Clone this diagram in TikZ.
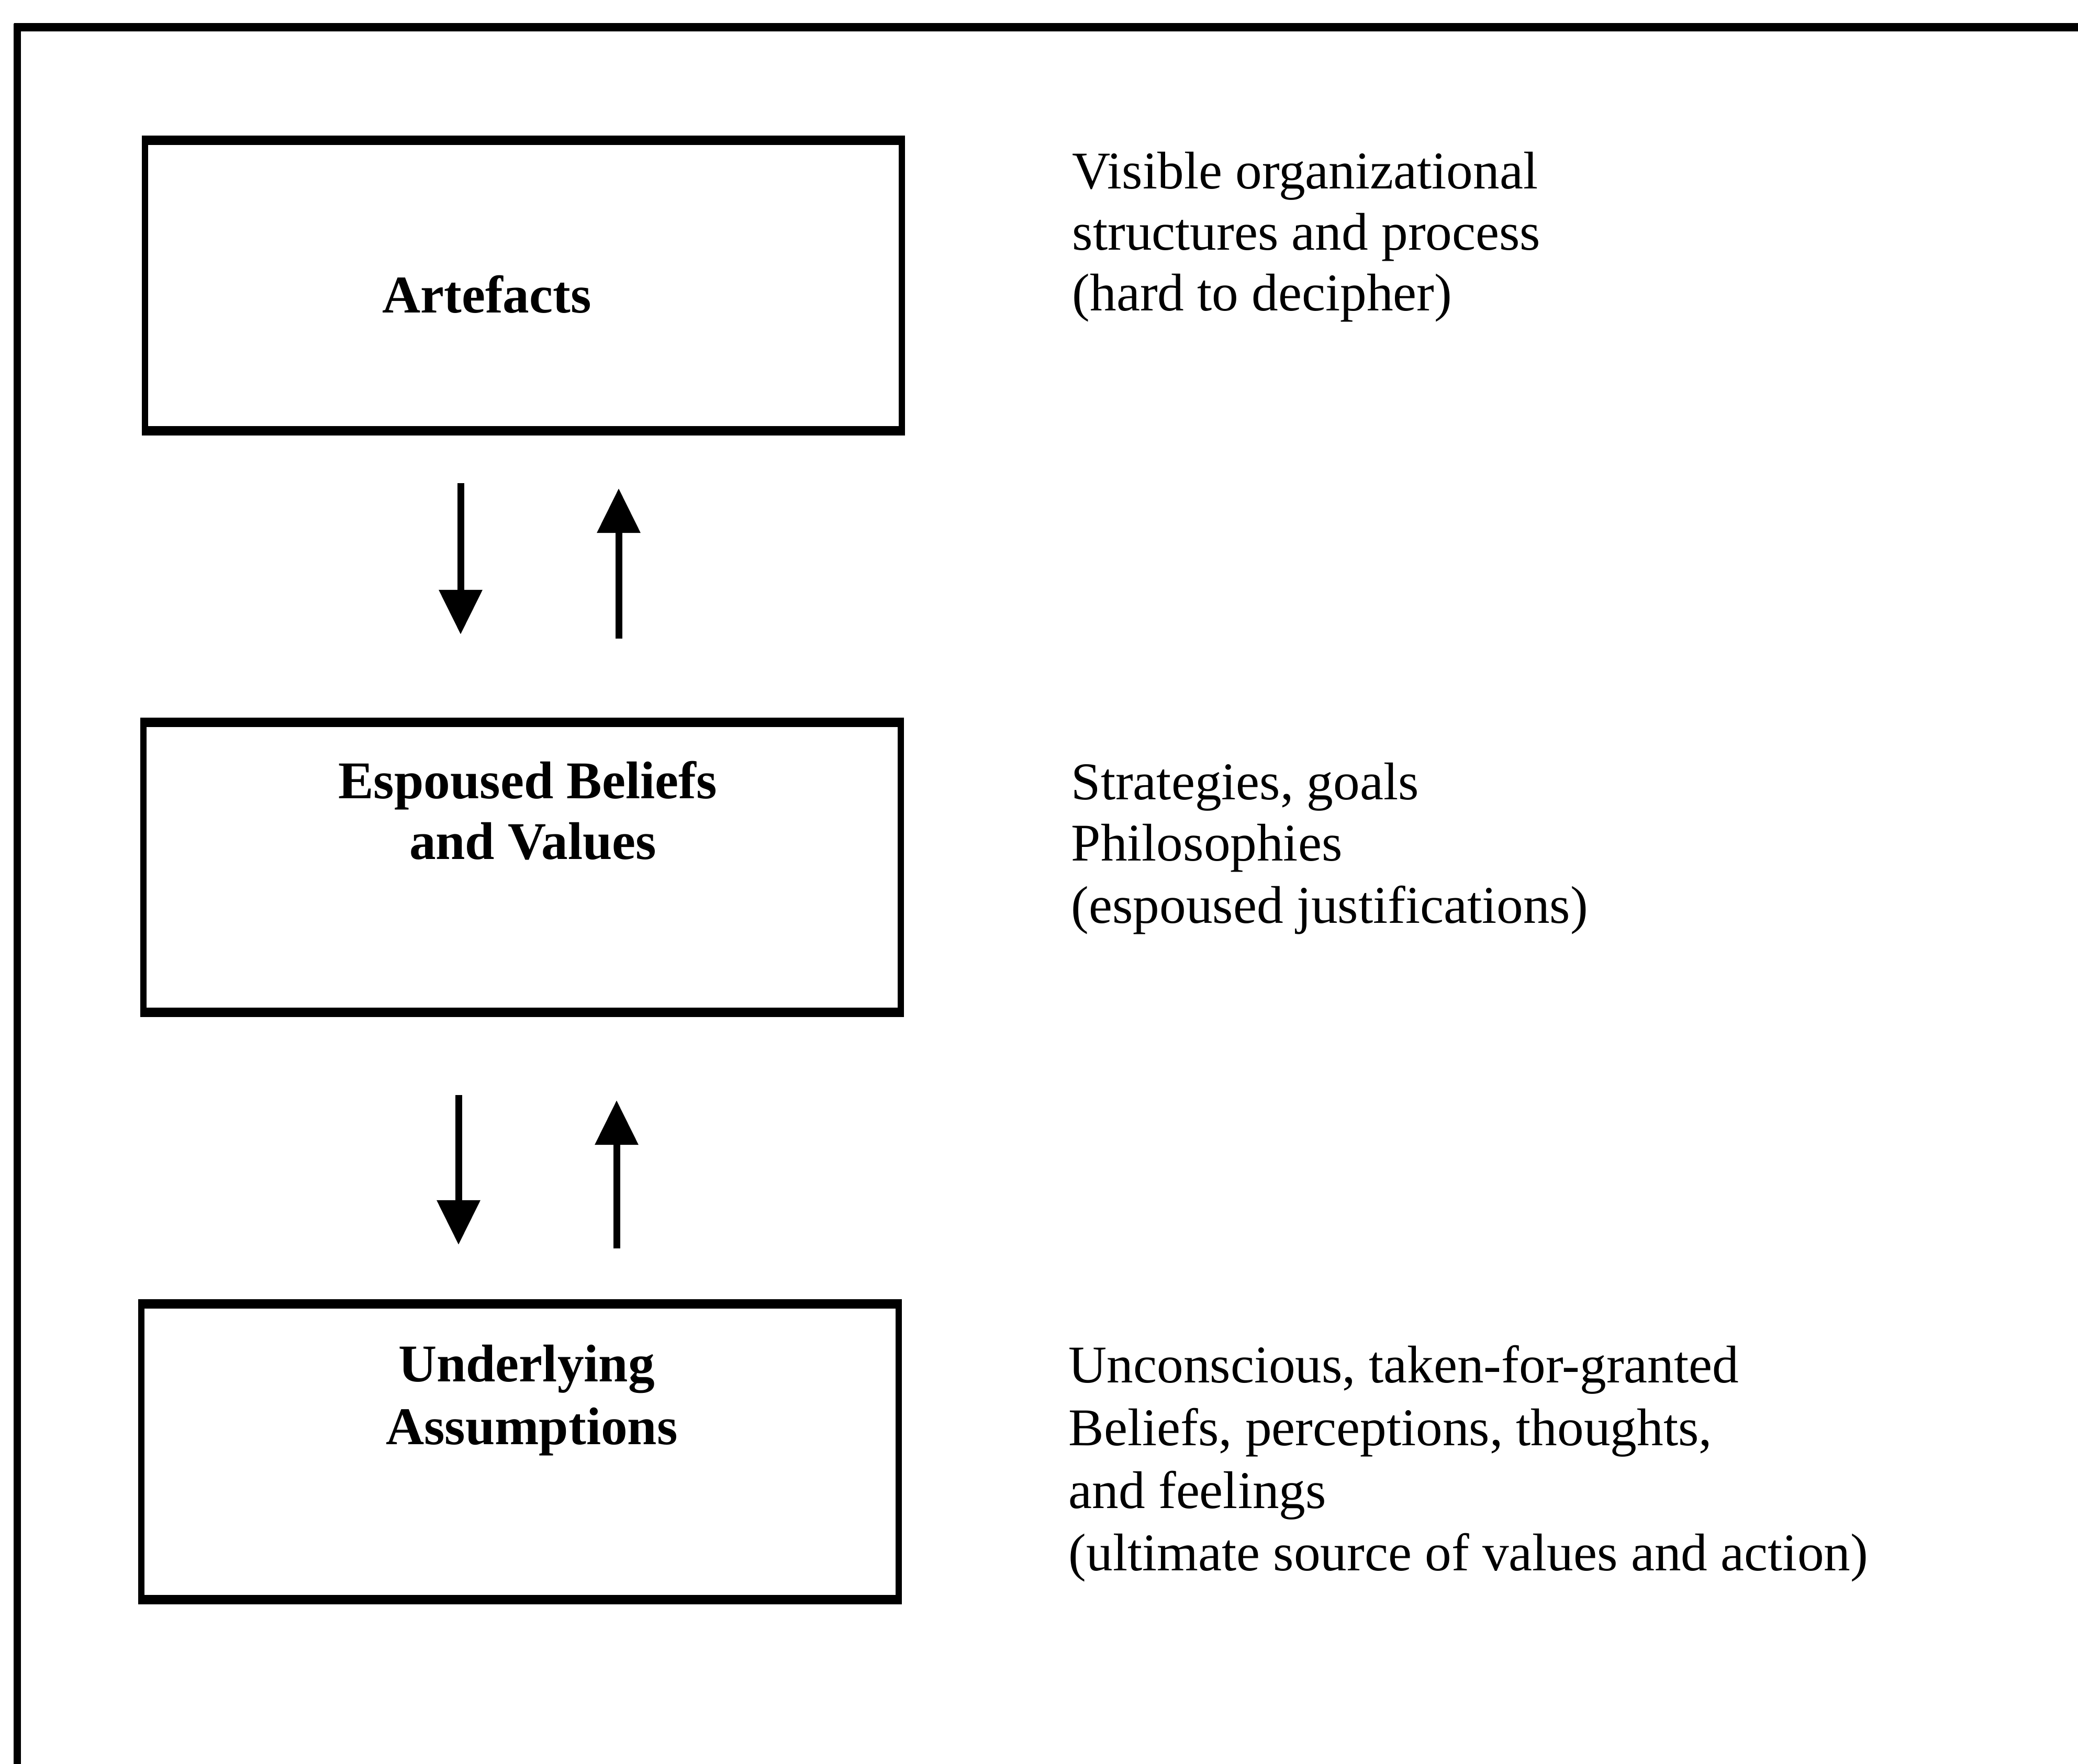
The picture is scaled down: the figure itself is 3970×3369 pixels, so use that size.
\documentclass[tikz,border=0pt]{standalone}
\usepackage{fontspec}
\setmainfont{Liberation Serif}
\usetikzlibrary{arrows.meta}
\begin{document}
\begin{tikzpicture}[x=0.01cm,y=-0.01cm,
  layerbox/.style={draw, line width=3.4pt, line join=miter, minimum width=14.46cm, outer sep=0pt, inner sep=0pt},
  edgeline/.style={line width=5pt, shorten <=-1.7pt, shorten >=-1.7pt},
  boxlabel/.style={anchor=base, inner sep=0pt, font=\fontsize{28.8pt}{33.6pt}\selectfont\bfseries},
  desc/.style={anchor=base west, inner sep=0pt, font=\fontsize{28.8pt}{33.6pt}\selectfont},
  flow/.style={line width=3.7pt, -{Triangle[length=0.85cm,width=0.8cm]}}]
\useasboundingbox (0,0) rectangle (3970,3369);
\clip (0,0) rectangle (3970,3369);
% outer frame (cropped on the right and bottom)
\coordinate (fbl) at (33,3500);
\coordinate (ftl) at (33,45);
\coordinate (ftl2) at (27,52);
\coordinate (ftr) at (4100,52);
\draw[line width=3.7pt] (fbl) -- (ftl);
\draw[line width=4.5pt] (ftl2) -- (ftr);
% layer boxes
\node[layerbox, minimum height=5.55cm] (art) at (1000,545.5) {};
\node[layerbox, minimum height=5.54cm] (esp) at (997.5,1657) {};
\node[layerbox, minimum height=5.65cm] (ua) at (993.5,2773.5) {};
\foreach \b in {art,esp,ua}{
  \draw[edgeline] (\b.north west) -- (\b.north east);
  \draw[edgeline] (\b.south west) -- (\b.south east);
}
% box labels
\node[boxlabel] (artl) at (930,597) {Artefacts};
\node[boxlabel] (espl1) at (1008,1525) {Espoused Beliefs};
\node[boxlabel] (espl2) at (1018,1641) {and Values};
\node[boxlabel] (ual1) at (1006,2639) {Underlying};
\node[boxlabel] (ual2) at (1016,2759) {Assumptions};
% descriptions
\node[desc] (d11) at (2048,360) {Visible organizational};
\node[desc] (d12) at (2048,477) {structures and process};
\node[desc] (d13) at (2048,593) {(hard to decipher)};
\node[desc] (d21) at (2046,1527) {Strategies, goals};
\node[desc] (d22) at (2046,1644) {Philosophies};
\node[desc] (d23) at (2046,1763) {(espoused justifications)};
\node[desc] (d31) at (2041,2641) {Unconscious, taken-for-granted};
\node[desc] (d32) at (2041,2761) {Beliefs, perceptions, thoughts,};
\node[desc] (d33) at (2041,2881) {and feelings};
\node[desc] (d34) at (2041,3000) {(ultimate source of values and action)};
% arrows
\coordinate (a1s) at (880,923);
\coordinate (a1e) at (880,1212);
\coordinate (b1s) at (1182,1220);
\coordinate (b1e) at (1182,933);
\coordinate (a2s) at (876,2092);
\coordinate (a2e) at (876,2378);
\coordinate (b2s) at (1178,2385);
\coordinate (b2e) at (1178,2102);
\draw[flow] (a1s) -- (a1e);
\draw[flow] (b1s) -- (b1e);
\draw[flow] (a2s) -- (a2e);
\draw[flow] (b2s) -- (b2e);
\end{tikzpicture}
\end{document}
